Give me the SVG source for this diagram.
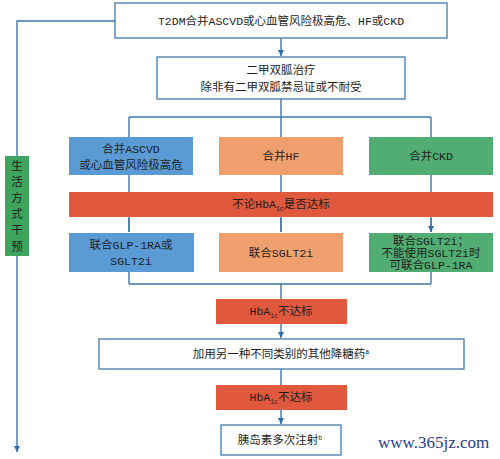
<svg xmlns="http://www.w3.org/2000/svg" width="500" height="459" viewBox="0 0 500 459">
<style>
.t{font-family:"Liberation Mono","Noto Sans CJK SC",monospace;font-size:11.5px;fill:#1e1e1e;text-anchor:middle}
.w{fill:#ffffff;stroke:#3f78aa;stroke-width:1.3}
.ln{stroke:#3f78aa;stroke-width:1.4;fill:none}
.blue{fill:#5b9bd5}
.org{fill:#f0a06e}
.grn{fill:#52ad72}
.red{fill:#e0583d}
.sub{font-size:6.5px}
</style>
<defs>
<marker id="ah" viewBox="0 0 10 10" refX="10" refY="5" markerWidth="6" markerHeight="6" orient="auto" markerUnits="userSpaceOnUse">
<path d="M0,0 L10,5 L0,10 z" fill="#2f6aa3"/>
</marker>
</defs>
<rect width="500" height="459" fill="#ffffff"/>
<g id="connectors">
<path class="ln" d="M115,21 H17 V452" marker-end="url(#ah)"/>
<path class="ln" d="M281,38 V56" marker-end="url(#ah)"/>
<path class="ln" d="M281,99 V117 M129,117 H431 M129,117 V232 M281,117 V232 M431,117 V232"/>
<path class="ln" d="M129,233 V284 M431,233 V284 M129,284 H431 M281,284 V300"/>
<path class="ln" d="M281,324 V338" marker-end="url(#ah)"/>
<path class="ln" d="M281,369 V385"/>
<path class="ln" d="M281,410 V424" marker-end="url(#ah)"/>
<path class="ln" d="M129,218 V232 M281,218 V232 M431,218 V232" marker-end="url(#ah)"/>
</g>
<g id="top">
<rect class="w" x="115" y="3" width="332" height="35"/>
<text class="t" x="281" y="25" font-size="11">T2DM合并ASCVD或心血管风险极高危、HF或CKD</text>
</g>
<g id="metformin">
<rect class="w" x="157" y="57" width="248" height="42"/>
<text class="t" x="281" y="74">二甲双胍治疗</text>
<text class="t" x="281" y="91">除非有二甲双胍禁忌证或不耐受</text>
</g>
<g id="ascvd">
<rect class="blue" x="69" y="137" width="124" height="38"/>
<text class="t" x="131" y="153">合并ASCVD</text>
<text class="t" x="131" y="169">或心血管风险极高危</text>
</g>
<g id="hf">
<rect class="org" x="219" y="137" width="124" height="38"/>
<text class="t" x="281" y="160">合并HF</text>
</g>
<g id="ckd">
<rect class="grn" x="369" y="137" width="124" height="38"/>
<text class="t" x="431" y="160">合并CKD</text>
</g>
<g id="regardless">
<rect class="red" x="69" y="192" width="424" height="25"/>
<text class="t" x="281" y="208">不论HbA<tspan class="sub" dy="3">1c</tspan><tspan dy="-3">是否达标</tspan></text>
</g>
<g id="glp">
<rect class="blue" x="69" y="233" width="125" height="39"/>
<text class="t" x="131" y="249">联合GLP-1RA或</text>
<text class="t" x="131" y="265">SGLT2i</text>
</g>
<g id="sglt">
<rect class="org" x="219" y="233" width="124" height="39"/>
<text class="t" x="281" y="257">联合SGLT2i</text>
</g>
<g id="ckdtx">
<rect class="grn" x="369" y="233" width="124" height="39"/>
<text class="t" x="431" y="245">联合SGLT2i；</text>
<text class="t" x="431" y="257">不能使用SGLT2i时</text>
<text class="t" x="431" y="269">可联合GLP-1RA</text>
</g>
<g id="notmet1">
<rect class="red" x="216" y="299" width="131" height="25"/>
<text class="t" x="281" y="315">HbA<tspan class="sub" dy="3">1c</tspan><tspan dy="-3">不达标</tspan></text>
</g>
<g id="add">
<rect class="w" x="99" y="339" width="365" height="30"/>
<text class="t" x="281" y="358">加用另一种不同类别的其他降糖药<tspan class="sub" dy="-4">a</tspan></text>
</g>
<g id="notmet2">
<rect class="red" x="216" y="385" width="131" height="25"/>
<text class="t" x="281" y="401">HbA<tspan class="sub" dy="3">1c</tspan><tspan dy="-3">不达标</tspan></text>
</g>
<g id="insulin">
<rect class="w" x="221" y="425" width="120" height="30"/>
<text class="t" x="280" y="444">胰岛素多次注射<tspan class="sub" dy="-4">b</tspan></text>
</g>
<g id="lifestyle">
<rect x="5" y="156" width="24" height="100" fill="#3fa45e"/>
<text class="t" x="17" y="170" fill="#1e1e1e">生</text>
<text class="t" x="17" y="186">活</text>
<text class="t" x="17" y="202">方</text>
<text class="t" x="17" y="218">式</text>
<text class="t" x="17" y="234">干</text>
<text class="t" x="17" y="251">预</text>
</g>
<text x="378" y="448" font-family="Liberation Serif,serif" font-size="17" fill="#1f3e8c">www.365jz.com</text>
</svg>
